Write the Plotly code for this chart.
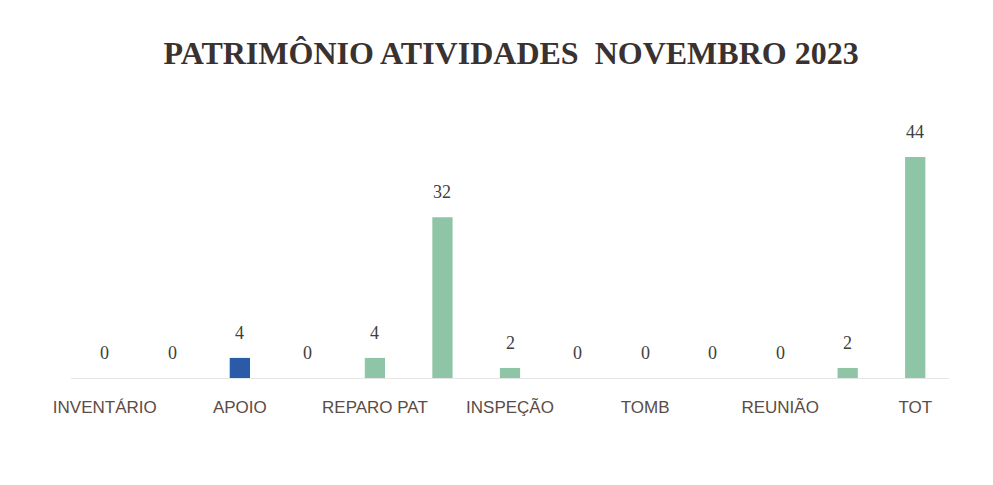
import plotly.graph_objects as go

# Data
categories = ["INVENTÁRIO", "", "APOIO", "", "REPARO PAT", "", "INSPEÇÃO", "",
              "TOMB", "", "REUNIÃO", "", "TOT"]
values = [0, 0, 4, 0, 4, 32, 2, 0, 0, 0, 0, 2, 44]
bar_colors = ["#8dc5a6", "#8dc5a6", "#2a5ba8", "#8dc5a6", "#8dc5a6", "#8dc5a6", "#8dc5a6",
              "#8dc5a6", "#8dc5a6", "#8dc5a6", "#8dc5a6", "#8dc5a6", "#8dc5a6"]
title_text = "PATRIMÔNIO ATIVIDADES  NOVEMBRO 2023"

xpos = list(range(len(categories)))
tick_idx = [i for i, c in enumerate(categories) if c]

fig = go.Figure()
fig.add_trace(go.Bar(
    x=xpos, y=values,
    marker=dict(color=bar_colors, line=dict(width=0)),
    width=0.3,
    hoverinfo="skip",
))

for i, v in zip(xpos, values):
    fig.add_annotation(
        x=i, y=v, xref="x", yref="y",
        text=str(v), showarrow=False,
        yanchor="middle", yshift=25,
        font=dict(family="Liberation Serif, Times New Roman, serif", size=18, color="#3f3f3f"),
    )

fig.update_layout(
    width=993, height=485,
    paper_bgcolor="#ffffff", plot_bgcolor="#ffffff",
    margin=dict(l=63, r=52, t=119, b=115),
    showlegend=False,
    title=dict(
        text=title_text, x=0.5066, xanchor="center", y=0.907, yanchor="middle",
        font=dict(family="Liberation Serif, Times New Roman, serif", size=32, color="#3a3230", weight="bold"),
    ),
    xaxis=dict(
        range=[-0.5, len(categories) - 0.5],
        tickmode="array",
        tickvals=tick_idx,
        ticktext=[categories[i] for i in tick_idx],
        ticks="outside", ticklen=14, tickcolor="rgba(0,0,0,0)",
        tickfont=dict(family="Liberation Sans, Arial, sans-serif", size=17, color="#5b4c45"),
        showgrid=False, zeroline=False,
        showline=True, linecolor="#e6e6e6", linewidth=1,
        fixedrange=True,
    ),
    yaxis=dict(
        range=[0, 50], visible=False, showgrid=False, zeroline=False,
        fixedrange=True,
    ),
)

fig.write_html("out.html")
